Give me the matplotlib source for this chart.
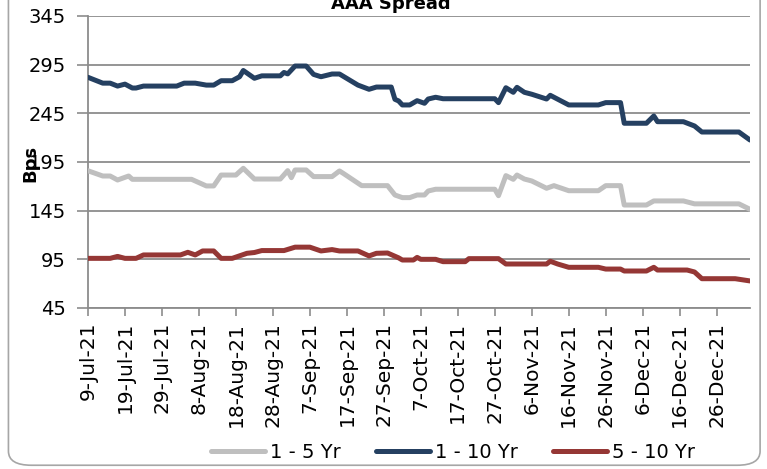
import numpy as np
import pandas as pd
import matplotlib
matplotlib.use("Agg")
import matplotlib.pyplot as plt
from matplotlib.patches import FancyBboxPatch

# spread levels (bps) at the dates where each curve changes
dates_1_5 = ["2021-07-09", "2021-07-13", "2021-07-15", "2021-07-17", "2021-07-20", "2021-07-21",
             "2021-08-06", "2021-08-10", "2021-08-12", "2021-08-14", "2021-08-18", "2021-08-20",
             "2021-08-23", "2021-08-30", "2021-09-01", "2021-09-02", "2021-09-03", "2021-09-06",
             "2021-09-08", "2021-09-13", "2021-09-15", "2021-09-16", "2021-09-21", "2021-09-28",
             "2021-09-30", "2021-10-02", "2021-10-04", "2021-10-06", "2021-10-08", "2021-10-09",
             "2021-10-11", "2021-10-27", "2021-10-28", "2021-10-30", "2021-11-01", "2021-11-02",
             "2021-11-04", "2021-11-06", "2021-11-10", "2021-11-12", "2021-11-16", "2021-11-24",
             "2021-11-26", "2021-11-30", "2021-12-01", "2021-12-07", "2021-12-09", "2021-12-17",
             "2021-12-20", "2022-01-01", "2022-01-04"]
spread_1_5 = [186, 180.6, 180.6, 176.5, 180.6, 177.2,
              177.2, 170.4, 170.4, 181.6, 181.6, 188.5,
              177.5, 177.5, 186.1, 178.9, 186.8, 186.8,
              180, 180, 185.8, 183.4, 170.7, 170.7,
              161.1, 158.4, 158.4, 161.1, 161.1, 165.2,
              167, 167, 160.4, 181, 177.2, 181.6,
              177.5, 175.5, 168, 170.7, 165.5, 165.5,
              170.7, 170.7, 150.8, 150.8, 155, 155,
              152, 152, 146.4]

dates_1_10 = ["2021-07-09", "2021-07-13", "2021-07-15", "2021-07-17", "2021-07-19", "2021-07-21",
              "2021-07-22", "2021-07-24", "2021-08-02", "2021-08-04", "2021-08-07", "2021-08-10",
              "2021-08-12", "2021-08-14", "2021-08-17", "2021-08-19", "2021-08-20", "2021-08-23",
              "2021-08-25", "2021-08-30", "2021-08-31", "2021-09-01", "2021-09-03", "2021-09-06",
              "2021-09-08", "2021-09-10", "2021-09-13", "2021-09-15", "2021-09-20", "2021-09-23",
              "2021-09-25", "2021-09-29", "2021-09-30", "2021-10-01", "2021-10-02", "2021-10-04",
              "2021-10-06", "2021-10-08", "2021-10-09", "2021-10-11", "2021-10-13", "2021-10-27",
              "2021-10-28", "2021-10-30", "2021-11-01", "2021-11-02", "2021-11-04", "2021-11-06",
              "2021-11-10", "2021-11-11", "2021-11-16", "2021-11-24", "2021-11-26", "2021-11-30",
              "2021-12-01", "2021-12-07", "2021-12-09", "2021-12-10", "2021-12-17", "2021-12-20",
              "2021-12-22", "2022-01-01", "2022-01-04"]
spread_1_10 = [282, 276, 276, 273, 275, 271,
               271, 273, 273, 276, 276, 274,
               274, 278.5, 278.5, 282.6, 289, 281,
               283.5, 283.5, 287, 285.5, 293.6, 293.6,
               285, 282.6, 285.4, 285.4, 274, 269.7,
               272, 272, 259.4, 257.7, 253.6, 253.6,
               258, 255.3, 259.7, 261.5, 260, 260,
               256, 271.3, 266.6, 271.7, 266.6, 264.6,
               259.7, 263.5, 253.6, 253.6, 256, 256,
               234.8, 234.8, 242.3, 236.4, 236.4, 232,
               225.8, 225.8, 217.6]

dates_5_10 = ["2021-07-09", "2021-07-15", "2021-07-17", "2021-07-19", "2021-07-22", "2021-07-24",
              "2021-08-03", "2021-08-05", "2021-08-07", "2021-08-09", "2021-08-12", "2021-08-14",
              "2021-08-17", "2021-08-21", "2021-08-23", "2021-08-25", "2021-08-31", "2021-09-03",
              "2021-09-07", "2021-09-10", "2021-09-13", "2021-09-15", "2021-09-20", "2021-09-23",
              "2021-09-25", "2021-09-28", "2021-10-01", "2021-10-02", "2021-10-05", "2021-10-06",
              "2021-10-07", "2021-10-11", "2021-10-13", "2021-10-19", "2021-10-20", "2021-10-28",
              "2021-10-30", "2021-11-10", "2021-11-11", "2021-11-13", "2021-11-16", "2021-11-24",
              "2021-11-26", "2021-11-30", "2021-12-01", "2021-12-07", "2021-12-09", "2021-12-10",
              "2021-12-18", "2021-12-20", "2021-12-22", "2021-12-31", "2022-01-04"]
spread_5_10 = [96, 96, 98, 96, 96, 99.5,
               99.5, 102.2, 99.5, 103.6, 103.6, 96,
               96, 101.2, 102, 104, 104, 107.5,
               107.5, 103.6, 105, 103.6, 103.6, 98.5,
               101.2, 101.5, 96.5, 94.3, 94.3, 97,
               95, 95, 92.6, 92.6, 95.7, 95.7,
               90.2, 90.2, 93, 90.2, 86.8, 86.8,
               85, 85, 83, 83, 86.8, 84,
               84, 82, 75.1, 75.1, 72.8]

series_names = ["1 - 5 Yr", "1 - 10 Yr", "5 - 10 Yr"]
series_colors = ["#BFBFBF", "#254061", "#953735"]

plt.rcParams['font.family'] = ['DejaVu Sans']
fig = plt.figure(figsize=(7.67, 4.69), dpi=100)

# rounded chart frame, kept behind the axes
frame = FancyBboxPatch((0.011, 0.008), 0.98, 1.2, boxstyle="round,pad=0,rounding_size=0.03",
                       transform=fig.transFigure, facecolor="none", edgecolor="#A6A6A6",
                       linewidth=1.2, zorder=-10)
fig.patches.append(frame)

ax = fig.add_axes([0.1147, 0.3433, 0.8631, 0.6226])
ax.set_facecolor("none")

all_dates = [dates_1_5, dates_1_10, dates_5_10]
all_vals = [spread_1_5, spread_1_10, spread_5_10]
for d, v, name, col in zip(all_dates, all_vals, series_names, series_colors):
    ax.plot(pd.to_datetime(d), v, color=col, lw=3.6, label=name,
            solid_joinstyle="round", solid_capstyle="round", zorder=3)

x_start = pd.Timestamp("2021-07-09")
x_end = pd.Timestamp("2022-01-04")
ax.set_xlim(x_start, x_end)
ax.set_ylim(45, 345)
ax.set_yticks(np.arange(45, 346, 50))
ax.yaxis.grid(True, color="#8C8C8C", lw=1.3)
ax.set_axisbelow(True)

ticks = pd.date_range(x_start, "2021-12-26", freq="10D")
ax.set_xticks(ticks)
ax.set_xticklabels([f"{t.day}-{t.strftime('%b-%y')}" for t in ticks], rotation=90, fontsize=14.5)
ax.tick_params(axis="x", length=6, width=1.2, color="#8C8C8C", pad=4)
ax.tick_params(axis="y", length=8, width=1.2, color="#8C8C8C", labelsize=14, pad=8)

for s in ["top", "right"]:
    ax.spines[s].set_visible(False)
for s in ["left", "bottom"]:
    ax.spines[s].set_color("#8C8C8C")
    ax.spines[s].set_linewidth(1.3)

fig.text(0.51, 0.992, "AAA Spread", ha="center", va="center", fontsize=13, fontweight="bold")
fig.text(0.04, 0.652, "Bps", ha="center", va="center", rotation=90, fontsize=13, fontweight="bold")

fig.legend(loc="center", bbox_to_anchor=(0.5905, 0.035), ncol=3, frameon=False, fontsize=14,
           handlelength=2.8, handletextpad=0.25, columnspacing=1.8)

fig.savefig("out.png", dpi=100)
